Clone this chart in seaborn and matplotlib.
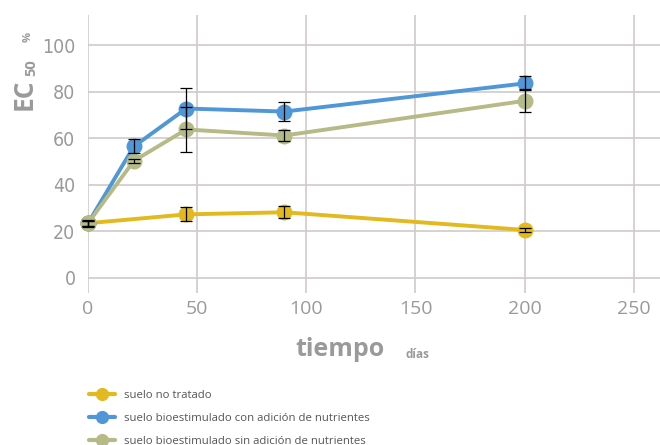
import matplotlib
matplotlib.use("Agg")
import matplotlib.pyplot as plt
from matplotlib import font_manager
import numpy as np
import pandas as pd
import seaborn as sns

# data
dias = [0, 21, 45, 90, 200]
series = [
    "suelo no tratado",
    "suelo bioestimulado con adición de nutrientes",
    "suelo bioestimulado sin adición de nutrientes",
]
no_tratado_x = [0, 45, 90, 200]
no_tratado = [23.5, 27.3, 28.2, 20.6]
no_tratado_err = [1.5, 3.0, 2.5, 0.8]
con_nutrientes = [23.5, 56.5, 72.8, 71.5, 83.6]
con_nutrientes_err = [1.0, 3.0, 9.0, 4.0, 3.0]
sin_nutrientes = [23.5, 50.3, 63.8, 61.2, 76.1]
sin_nutrientes_err = [1.0, 1.0, 9.5, 2.2, 5.0]
colores = ["#E2B91E", "#4F97D6", "#B5BA86"]
x_ticks = [0, 50, 100, 150, 200, 250]
y_ticks = [0, 20, 40, 60, 80, 100]

df = pd.concat([
    pd.DataFrame({"dias": no_tratado_x, "ec50": no_tratado, "err": no_tratado_err, "serie": series[0]}),
    pd.DataFrame({"dias": dias, "ec50": con_nutrientes, "err": con_nutrientes_err, "serie": series[1]}),
    pd.DataFrame({"dias": dias, "ec50": sin_nutrientes, "err": sin_nutrientes_err, "serie": series[2]}),
])

sns.set_style("white")
grey = "#9A9A9A"

# look for a narrow, regular-weight face for the y tick labels
narrow = None
for f in font_manager.fontManager.ttflist:
    is_narrow = "Narrow" in f.name or "Condensed" in f.name or f.stretch in ("condensed", "semi-condensed")
    if is_narrow and f.weight in (400, "normal", "regular") and f.style == "normal":
        narrow = f.fname
        break
if narrow:
    y_font = font_manager.FontProperties(fname=narrow, size=14)
else:
    y_font = font_manager.FontProperties(family="DejaVu Sans", stretch="condensed", size=13)

fig = plt.figure(figsize=(6.6, 4.45), dpi=100)
ax = fig.add_axes([88 / 660, 1 - 293 / 445, 1 - 88 / 660, 278 / 445])

# draw in reverse so the untreated line sits on top like the original
for i in [2, 1, 0]:
    sub = df[df["serie"] == series[i]]
    sns.lineplot(data=sub, x="dias", y="ec50", color=colores[i], lw=2.8,
                 marker="o", markersize=11.5, markeredgewidth=0, ax=ax,
                 label=series[i], clip_on=False, zorder=3 + i, legend=False)
    ax.errorbar(sub["dias"], sub["ec50"], yerr=sub["err"], fmt="none",
                ecolor="black", elinewidth=0.9, capsize=4, capthick=0.9,
                zorder=6, clip_on=False)

ax.set_xlim(0, 262)
ax.set_ylim(-6.5, 113)
ax.set_xticks(x_ticks)
ax.set_yticks(y_ticks)
ax.grid(True, color="#CFCBC7", lw=1.2)
for s in ax.spines.values():
    s.set_visible(False)
ax.tick_params(axis="x", length=0, pad=5, labelsize=14, labelcolor=grey)
ax.tick_params(axis="y", length=0, pad=9, labelcolor=grey)
for t in ax.get_xticklabels():
    t.set_fontfamily("Open Sans")
for t in ax.get_yticklabels():
    t.set_fontproperties(y_font)
ax.set_xlabel("")
ax.set_ylabel("")

# axis titles
fig.text(340 / 660, 1 - 350 / 445, "tiempo", fontsize=18, fontweight="bold",
         color=grey, ha="center", va="center", family="Open Sans")
fig.text(417 / 660, 1 - 354 / 445, "días", fontsize=8.5, fontweight="bold",
         color=grey, ha="center", va="center", family="Open Sans")
fig.text(24 / 660, 1 - 94 / 445, "EC", fontsize=19, fontweight="bold",
         color=grey, ha="center", va="center", rotation=90, family="Open Sans")
fig.text(31 / 660, 1 - 68 / 445, "50", fontsize=10.5, fontweight="bold",
         color=grey, ha="center", va="center", rotation=90, family="Open Sans")
fig.text(28 / 660, 1 - 37 / 445, "%", fontsize=8, fontweight="bold",
         color=grey, ha="center", va="center", rotation=90, family="Open Sans")

# legend below the plot
handles = [
    plt.Line2D([], [], color=c, lw=3, marker="o", markersize=9.5, markeredgewidth=0)
    for c in colores
]
fig.legend(handles, series, loc="upper left", bbox_to_anchor=(83 / 660, 1 - 384 / 445),
           frameon=False, labelcolor="#555555", handlelength=2.3,
           handletextpad=0.8, labelspacing=1.05, borderpad=0,
           prop={"family": "Open Sans", "size": 8.2})

fig.savefig("out.png", dpi=100)
